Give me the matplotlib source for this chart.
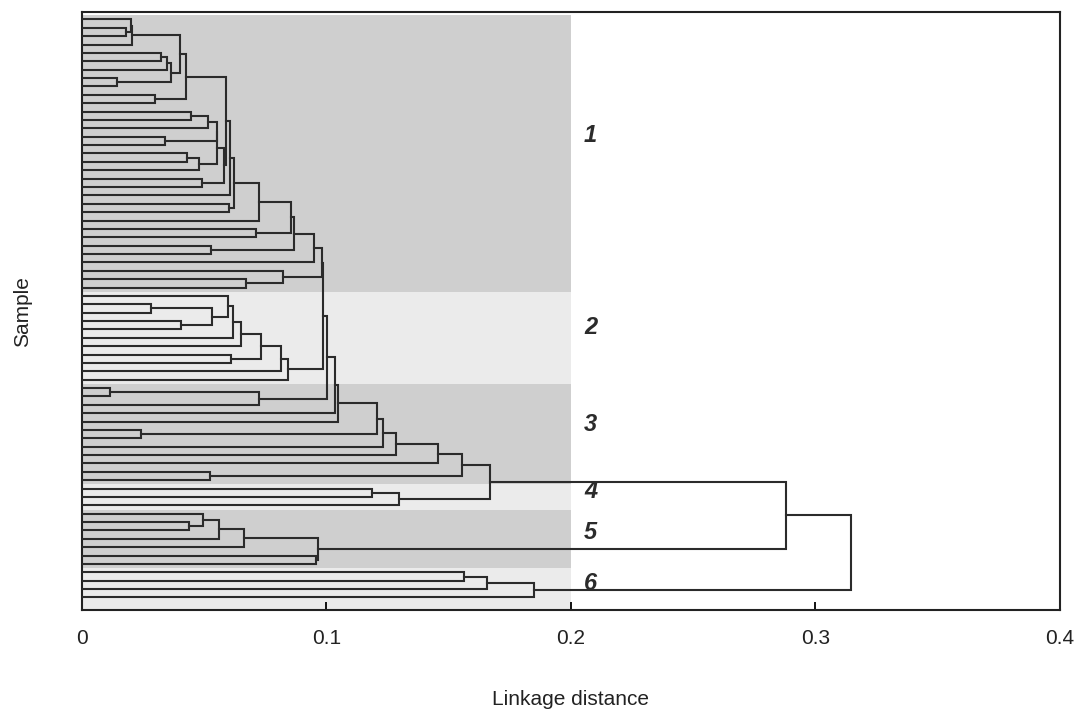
import matplotlib
matplotlib.use("Agg")
import matplotlib.pyplot as plt

# ---------------- data ----------------
# Dendrogram as nested nodes: (merge_height, left, right); leaves are leaf order indices.
A = (0.0206, (0.0199, 0, (0.0179, 1, 2)), 3)
B = (0.0363, (0.0349, (0.0324, 4, 5), 6), (0.0145, 7, 8))
C = (0.0297, 9, 10)
ABC = (0.0424, (0.0401, A, B), C)
E = (0.0517, (0.0447, 11, 12), 13)
F = (0.0338, 14, 15)
G = (0.0479, (0.0428, 16, 17), 18)
H = (0.0490, 19, 20)
EFGH = (0.0582, (0.0554, (0.0551, E, F), G), H)
I1 = (0.0949,
      (0.0867,
       (0.0856,
        (0.0724,
         (0.0622, (0.0605, (0.0588, ABC, EFGH), 21), (0.0601, 22, 23)),
         24),
        (0.0710, 25, 26)),
       (0.0526, 27, 28)),
      29)
I2 = (0.0823, 30, (0.0673, 31, 32))
cluster1 = (0.0983, I1, I2)

P = (0.0649, (0.0619, (0.0597, 33, (0.0533, (0.0284, 34, 35), (0.0406, 36, 37))), 38), 39)
cluster2 = (0.0843, (0.0813, (0.0731, P, (0.0611, 40, 41)), 42), 43)

N123 = (0.0724, (0.0115, 44, 45), 46)
T = (0.1047, (0.1037, (0.1001, (0.0987, cluster1, cluster2), N123), 47), 48)
T = (0.1208, T, (0.0240, 49, 50))
T = (0.1232, T, 51)
T = (0.1283, T, 52)
T = (0.1456, T, 53)
cluster3 = (0.1553, T, (0.0523, 54, 55))
cluster4 = (0.1297, (0.1187, 56, 57), 58)
cluster5 = (0.0967, (0.0663, (0.0560, (0.0496, 59, (0.0438, 60, 61)), 62), 63), (0.0956, 64, 65))
cluster6 = (0.1850, (0.1658, (0.1562, 66, 67), 68), 69)
root = (0.3145, (0.2879, (0.1671, cluster3, cluster4), cluster5), cluster6)

n_leaves = 70
cluster_sizes = [33, 11, 12, 3, 7, 4]
cluster_names = ["1", "2", "3", "4", "5", "6"]
cluster_label_y = [13.8, 36.8, 48.4, 56.4, 61.2, 67.3]
band_colors = ["#cfcfcf", "#ebebeb"]
shade_limit = 0.2
xticks = [0, 0.1, 0.2, 0.3, 0.4]
xticklabels = ["0", "0.1", "0.2", "0.3", "0.4"]

# ---------------- figure ----------------
fig = plt.figure(figsize=(10.77, 7.16), dpi=100)
ax = fig.add_axes([0.0761, 0.148, 0.908, 0.835])
font = "Liberation Sans"

y_top, y_bot = -0.87, n_leaves + 0.5
ax.set_xlim(0, 0.4)
ax.set_ylim(y_bot, y_top)

# shaded cluster bands
start = -0.5
for i, size in enumerate(cluster_sizes):
    end = start + size if i > 0 else size - 0.5
    if i == len(cluster_sizes) - 1:
        end = y_bot
    ax.fill_between([0, shade_limit], start, end, color=band_colors[i % 2],
                    linewidth=0, zorder=0)
    start = end
    ax.text(0.208, cluster_label_y[i], cluster_names[i], fontsize=17,
            fontweight="bold", fontstyle="italic", family=font,
            color="#2b2b2b", ha="center", va="center")

lc = "#2b2b2b"
lw = 1.5


def draw(node):
    if isinstance(node, int):
        return float(node), 0.0
    h, left, right = node
    yl, hl = draw(left)
    yr, hr = draw(right)
    ax.plot([hl, h, h, hr], [yl, yl, yr, yr], color=lc, lw=lw,
            solid_joinstyle="miter", zorder=3)
    return (yl + yr) / 2.0, h


ymid, hroot = draw(root)

# axes styling
for s in ax.spines.values():
    s.set_linewidth(1.5)
    s.set_color("#222222")
ax.set_yticks([])
ax.set_xticks(xticks)
ax.set_xticklabels(xticklabels, fontsize=15, family=font, color="#222222")
ax.tick_params(axis="x", direction="in", length=6, width=1.3, pad=14)
ax.set_xlabel("Linkage distance", fontsize=15, family=font, labelpad=30,
              color="#222222")
ax.set_ylabel("Sample", fontsize=15, family=font, labelpad=36, color="#222222")

fig.savefig("out.png", dpi=100)
